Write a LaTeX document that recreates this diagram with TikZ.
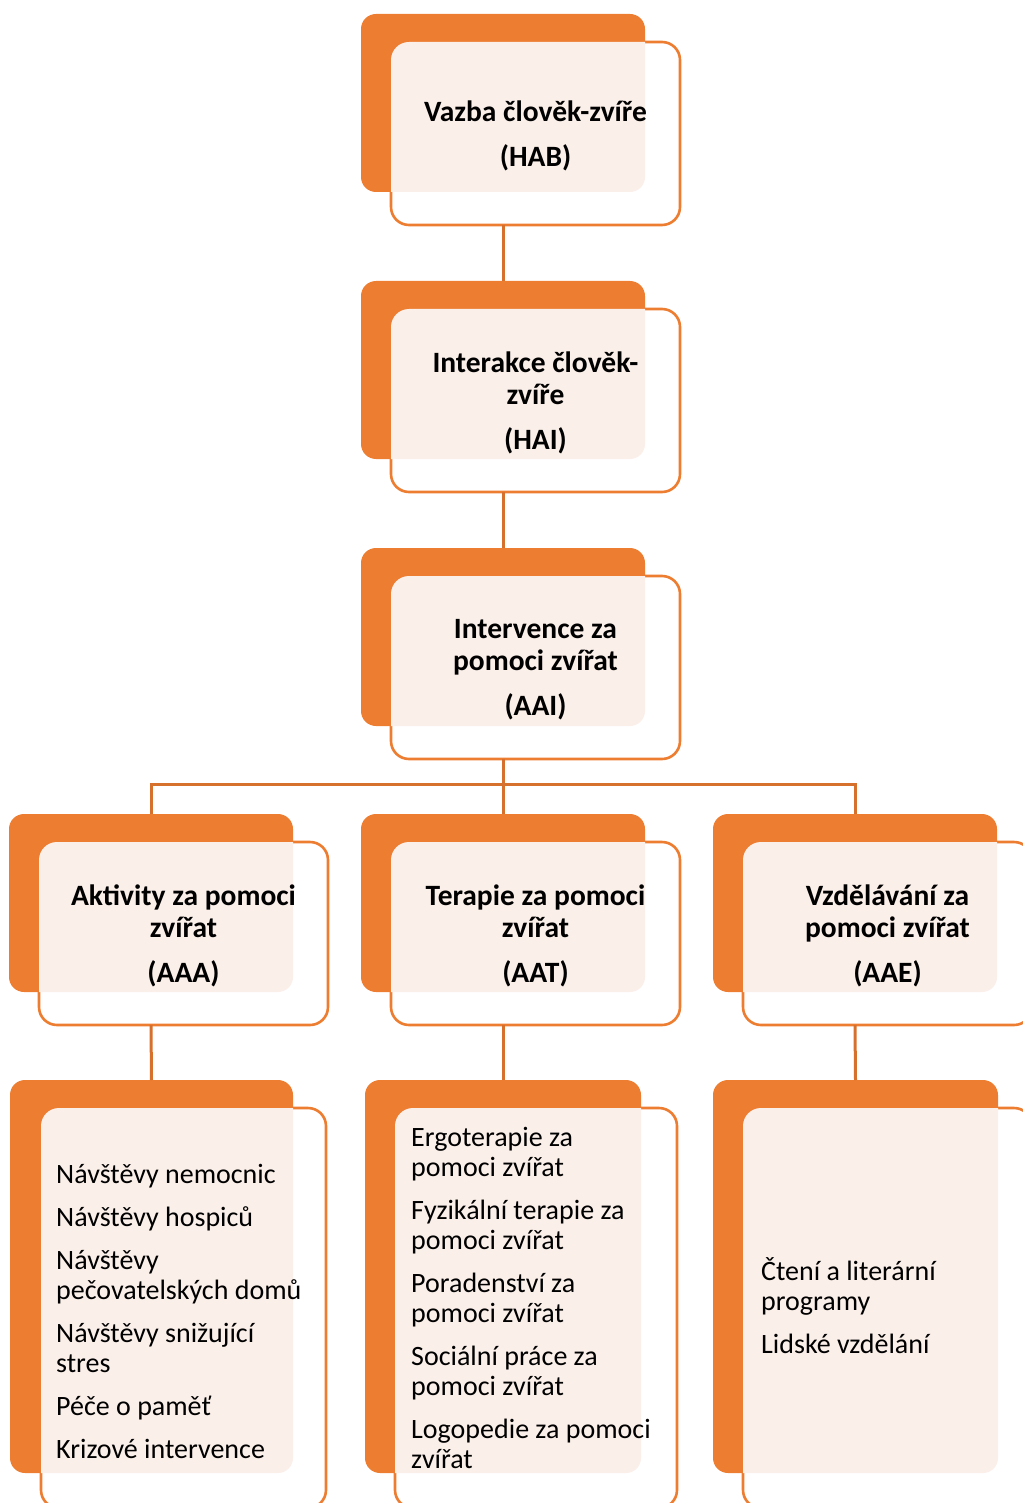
\documentclass[tikz,border=0pt]{standalone}
\usepackage{fontspec}
\setmainfont{Carlito}
\definecolor{acc}{RGB}{237,125,49}
\definecolor{tint}{RGB}{251,239,233}
\definecolor{lnk}{RGB}{214,112,45}
\newcommand\tintfill[2]{%
  \begin{scope}
    \clip[rounded corners=15pt] (#1.south west) rectangle (#1.north east);
    \fill[tint, rounded corners=18pt] (#2.south west) rectangle (#2.north east);
  \end{scope}}
\begin{document}
\begin{tikzpicture}[x=1pt,y=-1pt,
  backbox/.style={fill=acc, rounded corners=15pt, inner sep=0pt, outer sep=0pt,
    minimum width=284pt, minimum height=178pt},
  frontbox/.style={draw=acc, line width=2.6pt, fill=white, rounded corners=18pt,
    inner sep=0pt, outer sep=0pt, minimum width=289pt, minimum height=183pt},
  conn/.style={draw=lnk, line width=3pt},
  head/.style={font=\bfseries\fontsize{29.5}{32}\selectfont, align=center, text=black, inner sep=0pt, yshift=-2pt},
  items/.style={font=\fontsize{28}{30}\selectfont, align=left, anchor=west, text=black, inner sep=0pt}]
\useasboundingbox (0,0) rectangle (1022,1503);

% ---- row 1
\node[backbox] (b1) at (503,103) {};
\node[frontbox] (f1) at (535.5,133.5) {};
\tintfill{b1}{f1}
\node[head] (t1) at (f1.center) {Vazba člověk-zvíře\\[13pt](HAB)};

% ---- row 2
\node[backbox] (b2) at (503,370) {};
\node[frontbox] (f2) at (535.5,400.5) {};
\tintfill{b2}{f2}
\node[head] (t2) at (f2.center) {Interakce člověk-\\zvíře\\[13pt](HAI)};

% ---- row 3
\node[backbox] (b3) at (503,637) {};
\node[frontbox] (f3) at (535.5,667.5) {};
\tintfill{b3}{f3}
\node[head] (t3) at (f3.center) {Intervence za\\pomoci zvířat\\[13pt](AAI)};

% ---- row 4
\node[backbox] (b4a) at (151,903) {};
\node[frontbox] (f4a) at (183.5,933.5) {};
\tintfill{b4a}{f4a}
\node[head] (t4a) at (f4a.center) {Aktivity za pomoci\\zvířat\\[13pt](AAA)};

\node[backbox] (b4b) at (503,903) {};
\node[frontbox] (f4b) at (535.5,933.5) {};
\tintfill{b4b}{f4b}
\node[head] (t4b) at (f4b.center) {Terapie za pomoci\\zvířat\\[13pt](AAT)};

\node[backbox] (b4c) at (855,903) {};
\node[frontbox] (f4c) at (887.5,933.5) {};
\tintfill{b4c}{f4c}
\node[head] (t4c) at (f4c.center) {Vzdělávání za\\pomoci zvířat\\[13pt](AAE)};

% ---- row 5
\node[backbox, minimum width=283pt, minimum height=393pt] (b5a) at (151.5,1276.5) {};
\node[frontbox, minimum width=285pt, minimum height=400pt] (f5a) at (183.5,1308) {};
\tintfill{b5a}{f5a}
\node[items] (t5a) at (56,1311.5) {Návštěvy nemocnic\\[13pt]Návštěvy hospiců\\[13pt]Návštěvy\\pečovatelských domů\\[13pt]Návštěvy snižující\\stres\\[13pt]Péče o paměť\\[13pt]Krizové intervence};

\node[backbox, minimum width=276pt, minimum height=393pt] (b5b) at (503,1276.5) {};
\node[frontbox, minimum width=282pt, minimum height=400pt] (f5b) at (536,1308) {};
\tintfill{b5b}{f5b}
\node[items] (t5b) at (411,1298) {Ergoterapie za\\pomoci zvířat\\[13pt]Fyzikální terapie za\\pomoci zvířat\\[13pt]Poradenství za\\pomoci zvířat\\[13pt]Sociální práce za\\pomoci zvířat\\[13pt]Logopedie za pomoci\\zvířat};

\node[backbox, minimum width=285pt, minimum height=393pt] (b5c) at (855.5,1276.5) {};
\node[frontbox, minimum width=289pt, minimum height=400pt] (f5c) at (887.5,1308) {};
\tintfill{b5c}{f5c}
\node[items] (t5c) at (761,1305.5) {Čtení a literární\\programy\\[13pt]Lidské vzdělání};

% ---- connectors
\coordinate (bus) at (503,784);
\draw[conn] (b1.south |- f1.south) -- (b2.north);
\draw[conn] (b2.south |- f2.south) -- (b3.north);
\draw[conn] (b3.south |- f3.south) -- (bus);
\draw[conn] (b4a.north) |- (bus) -| (b4c.north);
\draw[conn] (bus) -- (b4b.north);
\draw[conn] (b4a.south |- f4a.south) -- (b5a.north);
\draw[conn] (b4b.south |- f4b.south) -- (b5b.north);
\draw[conn] (b4c.south |- f4c.south) -- (b5c.north);
\end{tikzpicture}
\end{document}
